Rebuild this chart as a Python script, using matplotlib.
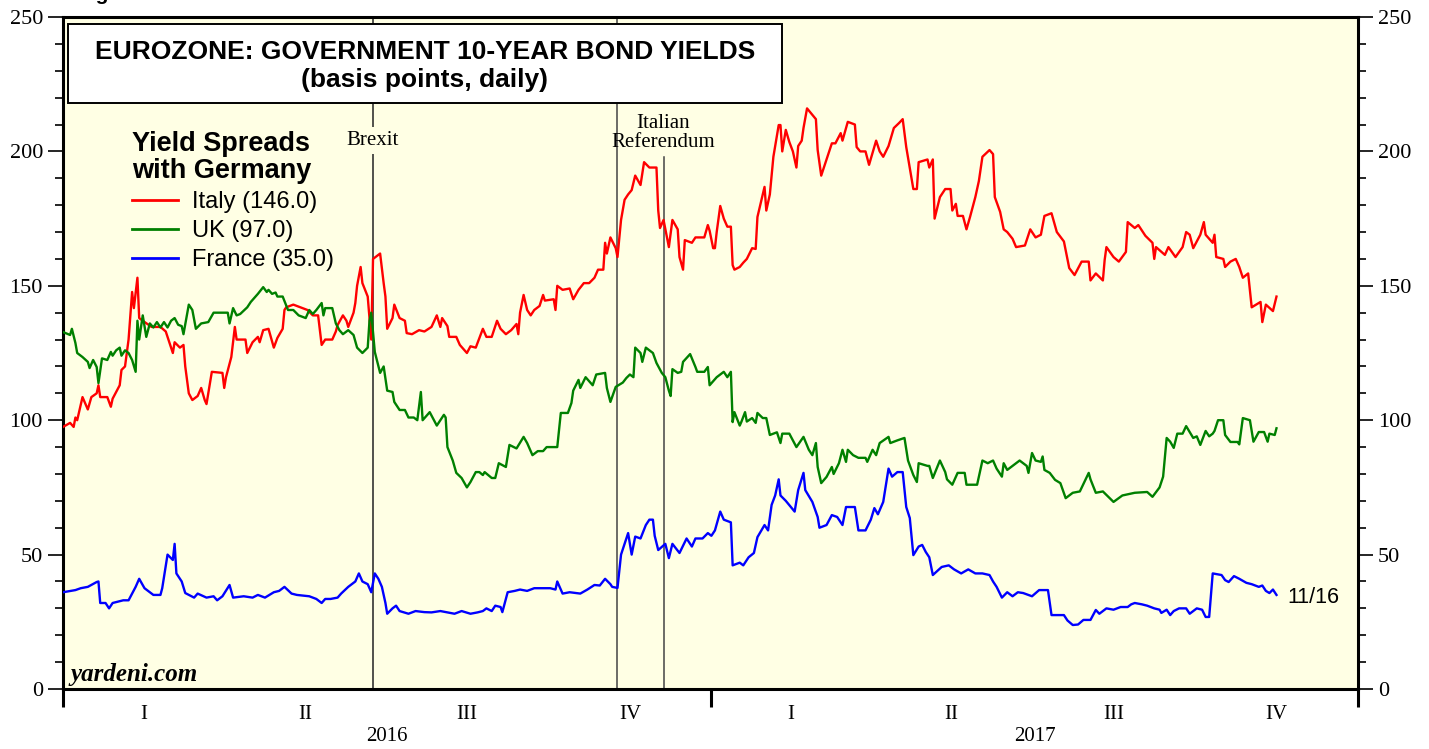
import numpy as np
import matplotlib
matplotlib.use('Agg')
import matplotlib.pyplot as plt
from matplotlib.ticker import MultipleLocator, FixedLocator, NullFormatter
from matplotlib.patches import Rectangle
import matplotlib.transforms as mtransforms


### data: spreads vs German 10y bund, basis points; day = days since 1 Jan 2016

italy_day = [0, 4, 6, 7, 8, 11, 14, 16, 19, 20, 21, 25, 27, 28, 32, 33, 35, 37, 39, 40,
             42, 43, 45, 50, 55, 58, 62, 63, 66, 68, 69, 71, 73, 76, 78, 80, 81, 84, 90, 91,
             92, 95, 97, 98, 103, 104, 107, 110, 111, 113, 116, 119, 121, 124, 125, 126, 130, 134, 138, 141,
             144, 146, 148, 152, 154, 155, 158, 160, 161, 164, 165, 166, 168, 169, 172, 174, 175, 179, 181, 182,
             183, 186, 187, 190, 193, 194, 197, 201, 204, 208, 211, 213, 214, 217, 218, 222, 224, 228, 230, 233,
             237, 239, 242, 245, 247, 250, 253, 256, 257, 258, 260, 262, 264, 266, 269, 271, 272, 277, 278, 279,
             282, 286, 288, 291, 294, 297, 300, 302, 305, 306, 307, 309, 312, 313, 315, 317, 319, 321, 323, 326,
             328, 331, 335, 336, 337, 339, 342, 344, 347, 348, 350, 351, 355, 357, 362, 364, 365, 367, 368, 369,
             371, 373, 375, 377, 378, 379, 382, 384, 386, 389, 391, 392, 396, 397, 399, 401, 404, 405, 406, 408,
             410, 412, 414, 415, 417, 418, 420, 425, 426, 428, 431, 434, 436, 439, 440, 443, 447, 448, 450, 453,
             455, 459, 461, 463, 466, 469, 472, 474, 476, 480, 482, 483, 488, 489, 491, 492, 495, 498, 501, 502,
             504, 505, 508, 510, 512, 515, 517, 519, 523, 525, 526, 529, 531, 533, 536, 538, 543, 546, 549, 552,
             554, 558, 561, 565, 568, 571, 575, 579, 580, 583, 587, 588, 589, 593, 596, 600, 601, 605, 607, 611,
             615, 616, 617, 622, 624, 628, 632, 634, 636, 638, 642, 644, 645, 649, 650, 651, 655, 656, 659, 662,
             664, 666, 669, 671, 676, 677, 679, 683, 685]
italy = [97.5, 99, 97.5, 101, 100, 108.6, 104, 108.6, 110, 113, 108.6, 108.6, 105, 108, 113, 118.7, 120, 130, 147.7, 141.7,
         153, 138, 137, 134.7, 134.7, 133, 125, 129, 127, 128, 120, 110, 107.5, 109, 112, 107.5, 106, 118, 117.6, 112,
         116, 123.5, 134.7, 130, 130, 125, 129, 131, 129, 133.5, 134, 127, 130.6, 134, 141, 142, 143, 142, 141, 139,
         139, 128, 130, 130, 133, 135.4, 139, 137, 134.7, 140, 143.6, 150, 157, 151, 146, 130, 160, 162, 151, 146,
         134, 138, 143, 138, 137, 132.4, 132, 133.5, 133, 134.7, 139, 134.7, 138, 135, 131, 131, 128, 125, 127.5, 127,
         134, 131, 131, 137, 134, 132, 133.5, 135.8, 132, 140, 146.6, 141, 139, 141, 142.5, 146.6, 144.5, 145, 141, 150,
         148.5, 149, 145, 148.5, 151, 151, 153, 156, 156, 166, 162, 168, 164, 160.7, 174.5, 182, 184, 185.6, 191, 187.5,
         196, 194, 194, 178, 171.5, 174.5, 164.4, 174.5, 171, 160.7, 156, 167, 166, 168, 168, 172.6, 170.5, 164, 164, 170,
         179.7, 175, 172, 172, 157.7, 156, 157, 158.6, 160, 164, 163.7, 175.6, 186.8, 178, 184, 198, 209.8, 209.8, 200, 208,
         203.5, 200, 194, 202, 204, 208.7, 216, 212, 200.5, 191, 197, 203, 203, 206.8, 204, 211, 210, 201.6, 200, 200,
         195, 204, 200, 198, 202, 208.7, 210.6, 212, 201.6, 186, 186, 196, 197, 194, 197, 175, 183, 186, 186, 178,
         180.5, 176, 176, 171, 175.6, 183, 189, 198, 200.5, 199, 183, 177.5, 171, 170, 167.5, 164.4, 165, 171, 168, 169,
         176, 177, 170, 166.5, 156.6, 154, 159, 159, 152, 154.6, 152, 159.6, 164.4, 160.7, 159, 162.6, 173.7, 171.5, 172.6, 168.6,
         166, 160, 164.4, 161.5, 164.4, 160.7, 164.4, 170, 169, 164, 169, 173.7, 169, 166, 169, 160.7, 160, 157, 159, 160,
         157, 153, 154.6, 142, 144, 136.5, 143, 140.6, 146]

uk_day = [0, 4, 5, 7, 8, 11, 14, 15, 17, 19, 20, 22, 25, 27, 28, 30, 32, 33, 35, 37,
          39, 41, 42, 43, 45, 47, 49, 51, 53, 55, 57, 59, 61, 63, 65, 67, 68, 71, 73, 75,
          78, 82, 85, 93, 94, 96, 98, 100, 104, 106, 110, 113, 115, 116, 118, 120, 121, 124, 127, 130,
          133, 137, 139, 141, 143, 146, 147, 148, 152, 154, 156, 158, 161, 164, 166, 169, 172, 173, 174, 176,
          179, 181, 183, 186, 187, 190, 193, 195, 198, 200, 202, 203, 207, 211, 215, 216, 217, 220, 222, 225,
          228, 230, 233, 235, 237, 238, 242, 244, 246, 250, 252, 256, 260, 262, 265, 268, 271, 273, 279, 281,
          285, 287, 288, 291, 292, 295, 299, 301, 306, 307, 309, 312, 316, 318, 320, 322, 323, 326, 327, 329,
          331, 333, 335, 338, 340, 342, 343, 344, 347, 349, 350, 354, 357, 358, 362, 364, 365, 369, 373, 375,
          377, 378, 379, 382, 383, 385, 386, 389, 391, 392, 395, 397, 399, 403, 405, 406, 410, 414, 418, 421,
          423, 425, 426, 428, 431, 434, 435, 438, 440, 442, 443, 446, 449, 453, 454, 457, 459, 461, 466, 467,
          471, 475, 477, 480, 482, 483, 488, 489, 491, 495, 498, 499, 502, 505, 509, 510, 516, 519, 522, 525,
          527, 530, 531, 533, 536, 540, 544, 545, 547, 549, 552, 553, 554, 557, 560, 563, 566, 570, 574, 579,
          580, 583, 587, 593, 598, 605, 612, 615, 619, 621, 623, 625, 627, 629, 632, 634, 638, 640, 642, 645,
          647, 649, 650, 652, 655, 656, 659, 663, 664, 666, 670, 672, 675, 678, 680, 681, 684, 685]
uk = [132.8, 131.7, 134, 128.7, 125, 123.5, 121.7, 119.4, 122.4, 119.8, 113.8, 123, 122.4, 125.4, 124, 126, 127, 124, 126, 125,
      122.4, 118, 137, 130, 139, 131, 136, 134.5, 136.5, 134.5, 136.5, 134.5, 137, 138, 135.5, 135, 132, 143, 141, 134,
      136, 136.5, 140, 140, 136, 141.7, 139, 139.5, 142, 144, 147, 149.5, 147.7, 148.5, 147, 147.5, 146, 146, 141, 141,
      139, 138, 141, 139.5, 141, 143.6, 139, 141.7, 141.7, 136, 133.5, 132, 133.5, 131.7, 127, 125, 127, 137, 140, 125.4,
      117.6, 120, 111, 110.5, 106.8, 103.8, 103.8, 101, 101, 100, 110.5, 100, 103, 98, 102, 101, 90, 85, 80.4, 78.5,
      75, 77, 80.7, 80.7, 79.6, 80.7, 78.5, 78.5, 84, 82.6, 90.8, 89.5, 93.8, 91.5, 87, 88.5, 88.5, 90, 90, 102.7,
      102.7, 106.4, 111, 115, 112, 116, 113, 117, 117.6, 112, 106.8, 112.4, 114, 115.7, 117, 116, 127, 125, 121.7, 127,
      126, 125, 121.3, 117.6, 116, 111, 109, 119, 117.6, 118, 121.7, 124.6, 119.8, 118, 118, 119.8, 113, 116, 118, 116,
      118, 99.3, 103, 98, 99.5, 103, 99.5, 100.8, 99, 102.7, 100.8, 100.8, 94.5, 95.5, 91.5, 95, 95, 90, 93.8, 89,
      87, 91.5, 82.6, 76.6, 78.9, 82.6, 80, 84, 89, 84.5, 89, 87, 86, 86, 84.5, 89, 87, 91.5, 93.8, 91.5,
      92.5, 93.4, 85, 79.6, 77, 84, 83, 83, 78.5, 85, 80.7, 78, 76, 80.4, 80.4, 76, 76, 85, 84, 85,
      82, 79, 84, 81.5, 83, 85, 83, 80.4, 87.8, 85, 84.5, 86.5, 81.5, 80.4, 77.8, 76.6, 71, 73, 73.5, 80.4,
      78, 73, 73.5, 69.6, 72, 73, 73.3, 71.5, 75, 79, 93.4, 92, 89.7, 95, 95, 97.8, 93.4, 94, 90.8, 96,
      94, 95, 96, 100, 100, 94.5, 91.9, 91.9, 91, 100.8, 100, 92, 95.6, 95.6, 92, 95, 94.5, 97]

france_day = [0, 7, 10, 14, 19, 20, 21, 24, 26, 28, 34, 37, 41, 43, 46, 49, 51, 55, 56, 59,
              62, 63, 64, 67, 69, 74, 76, 81, 85, 87, 90, 94, 96, 102, 107, 110, 114, 119, 122, 125,
              129, 132, 139, 143, 146, 148, 151, 155, 157, 161, 165, 167, 169, 172, 174, 176, 178, 180, 182, 183,
              186, 188, 190, 195, 199, 204, 208, 213, 217, 221, 225, 230, 234, 237, 239, 242, 244, 247, 248, 251,
              255, 258, 262, 266, 270, 275, 278, 279, 282, 286, 292, 296, 300, 303, 306, 309, 310, 313, 315, 319,
              321, 323, 326, 329, 331, 333, 334, 336, 340, 342, 344, 348, 352, 355, 357, 361, 364, 366, 368, 371,
              373, 377, 378, 382, 384, 387, 390, 392, 396, 398, 400, 402, 404, 405, 408, 413, 415, 418, 419, 423,
              426, 427, 431, 434, 437, 440, 442, 447, 449, 453, 456, 458, 460, 463, 466, 468, 471, 474, 476, 478,
              480, 483, 485, 487, 489, 491, 496, 500, 503, 507, 511, 515, 519, 523, 525, 527, 530, 533, 536, 539,
              542, 547, 551, 556, 558, 565, 567, 570, 573, 576, 580, 583, 585, 589, 593, 597, 601, 603, 605, 609,
              612, 616, 619, 620, 623, 625, 627, 630, 634, 636, 638, 640, 643, 645, 647, 649, 654, 656, 658, 661,
              664, 668, 671, 675, 677, 679, 681, 683, 685]
france = [36, 36.8, 37.5, 38, 39.8, 40, 32, 32, 30, 32, 33, 33, 38, 41, 37.5, 36, 35, 35, 37.5, 50,
          48, 54, 43, 40, 35.7, 34, 35.5, 34, 34.5, 33, 34.5, 38.7, 34, 34.5, 34, 35, 34, 36, 36.5, 38,
          35.5, 35, 34.5, 33.5, 32, 33.5, 33.5, 34, 35.5, 38, 40, 43, 40, 39, 36, 43, 41, 38, 32, 28,
          30, 31, 29, 28, 29, 28.6, 28.5, 29, 28.5, 28, 29, 28, 28.5, 29, 30, 29, 31, 30.5, 28.6, 36,
          36.5, 37, 36.5, 37.5, 37.5, 37.5, 37, 40, 35.5, 36, 35.5, 37, 38.7, 38.5, 41, 39, 38, 37.6, 50, 58,
          50, 56.7, 56, 61, 63, 63, 57, 51.7, 54, 48.7, 54, 50.6, 56, 53, 56, 56, 58, 57, 59, 66,
          63, 62, 46, 47, 46, 49, 50.6, 56.5, 61, 59, 68.5, 72, 78, 72, 70, 66, 74, 80.4, 74, 69.6,
          64, 60, 61, 64.7, 64, 61, 67.7, 67.7, 59, 59, 63, 67.3, 65, 69.6, 82, 79, 80.7, 80.7, 67.7, 63.6,
          49.8, 53, 53.6, 51, 49, 42.4, 45.4, 46, 44.5, 43, 44.5, 43, 43, 42.4, 40, 38, 34, 36, 34.5, 36,
          35.7, 34.5, 36.8, 36.8, 27.5, 27.5, 25.5, 23.8, 24, 25.7, 25.7, 29.4, 28, 30, 29.5, 30.5, 30.5, 31.5, 32, 31.5,
          31, 30, 29.5, 28.3, 29.5, 27.5, 29, 30, 30, 28, 29, 30, 29.5, 26.8, 26.8, 43, 42.4, 40.5, 39.8, 42,
          41, 39.5, 39, 38, 38.5, 36.5, 35.7, 37, 35]

series_labels = ['Italy (146.0)', 'UK (97.0)', 'France (35.0)']
series_colors = ['#ff0000', '#008000', '#0000ff']

# event dates (days since 1 Jan 2016)
brexit_day = 175
us_election_day = 313
referendum_day = 339

year_starts = [0, 366, 731]
quarter_starts = [0, 91, 182, 274, 366, 456, 547, 639, 731]
quarter_names = ['I', 'II', 'III', 'IV'] * 2
year_names = ['2016', '2017']
last_date = '11/16'


### figure

serif = 'Liberation Serif'
sans = 'Liberation Sans'
bg = '#ffffe4'

fig = plt.figure(figsize=(14.29, 7.49), dpi=100)
ax = fig.add_axes([0.0441, 0.0801, 0.9062, 0.8972])
ax.set_facecolor(bg)

for d, v, lab, c in zip([italy_day, uk_day, france_day], [italy, uk, france],
                        series_labels, series_colors):
    ax.plot(d, v, color=c, lw=1.7, label=lab, zorder=3)

# event lines
ax.axvline(brexit_day, color='#222222', lw=1.1, zorder=2)
ax.axvline(us_election_day, color='#444444', lw=1.1, zorder=2)
ax.axvline(referendum_day, ymax=198 / 250, color='#444444', lw=1.1, zorder=2)
ax.text(brexit_day, 204, 'Brexit', ha='center', va='center', family=serif, fontsize=15,
        bbox=dict(facecolor=bg, edgecolor='none', pad=3), zorder=4)
ax.text(referendum_day, 207, 'Italian\nReferendum', ha='center', va='center', family=serif,
        fontsize=15, linespacing=1.0, zorder=4)

ax.set_xlim(year_starts[0], year_starts[-1])
ax.set_ylim(0, 250)

# y axis: labels both sides, all ticks outside
ax.yaxis.set_major_locator(MultipleLocator(50))
ax.yaxis.set_minor_locator(MultipleLocator(10))
ax.tick_params(axis='y', which='major', direction='out', length=11, width=1.2,
               left=True, right=True, labelleft=True, labelright=True, labelsize=16, pad=3.5)
ax.tick_params(axis='y', which='minor', direction='out', length=6, width=1.2,
               left=True, right=True)
for t in ax.get_yticklabels():
    t.set_family(serif)

# x axis: year ticks, quarter labels in between
ax.xaxis.set_major_locator(FixedLocator(year_starts))
ax.xaxis.set_major_formatter(NullFormatter())
q_mid = [(a + b) / 2 for a, b in zip(quarter_starts[:-1], quarter_starts[1:])]
ax.xaxis.set_minor_locator(FixedLocator(q_mid))
ax.set_xticklabels(quarter_names, minor=True, family=serif, fontsize=15)
ax.tick_params(axis='x', which='major', direction='out', length=13, width=2.2)
ax.tick_params(axis='x', which='minor', length=0, pad=11.5)

trans = mtransforms.blended_transform_factory(ax.transData, ax.transAxes)
for y0, y1, name in zip(year_starts[:-1], year_starts[1:], year_names):
    ax.text((y0 + y1) / 2, -0.071, name, transform=trans, ha='center', va='center',
            family=serif, fontsize=15)

for s in ax.spines.values():
    s.set_linewidth(2.2)

# title box
ax.add_patch(Rectangle((0.004, 0.872), 0.551, 0.118, transform=ax.transAxes,
                       facecolor='white', edgecolor='black', lw=1.4, zorder=5))
ax.text(0.2795, 0.948, 'EUROZONE: GOVERNMENT 10-YEAR BOND YIELDS', transform=ax.transAxes,
        ha='center', va='center', family=sans, weight='bold', fontsize=19, zorder=6)
ax.text(0.2795, 0.906, '(basis points, daily)', transform=ax.transAxes,
        ha='center', va='center', family=sans, weight='bold', fontsize=19, zorder=6)

leg = ax.legend(loc='upper left', bbox_to_anchor=(0.053, 0.830), frameon=False,
                title='Yield Spreads\nwith Germany', alignment='left',
                prop=dict(family=sans, size=17), handlelength=1.95, handletextpad=0.6,
                labelspacing=0.3, borderpad=0, borderaxespad=0)
leg.get_title().set_fontproperties(dict(family=sans, size=19.5, weight='bold'))
leg.get_title().set_linespacing(1.05)
for h in leg.legend_handles:
    h.set_linewidth(2)

ax.text(0.006, 0.004, 'yardeni.com', transform=ax.transAxes, family=serif, style='italic',
        weight='bold', fontsize=18, ha='left', va='bottom')
ax.text(france_day[-1] + 6, france[-1] - 1, last_date, family=sans, fontsize=15.5,
        ha='left', va='center')

fig.text(0.054, 0.994, 'Figure 8.', family=sans, weight='bold', fontsize=15, ha='left', va='bottom')

fig.savefig('out.png', dpi=100)
